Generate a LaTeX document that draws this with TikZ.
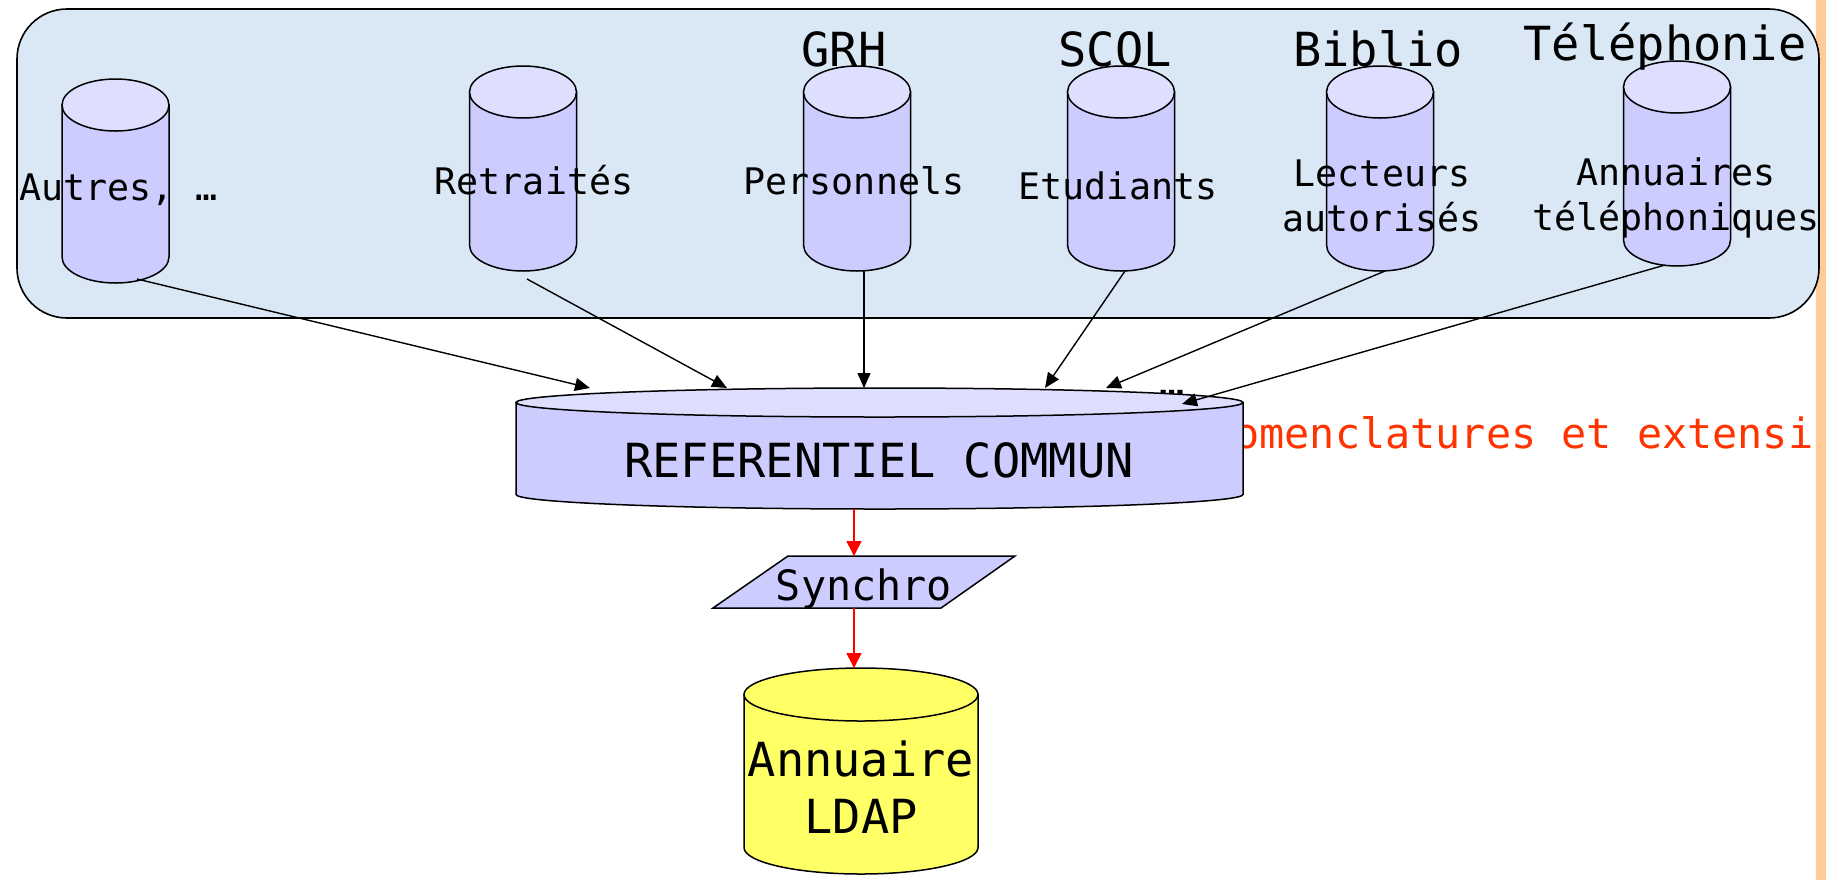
\documentclass[tikz,border=0pt]{standalone}
\usepackage{fontspec}
\newfontfamily\dvm{DejaVu Sans Mono}
\usetikzlibrary{arrows.meta}
\definecolor{bgblue}{RGB}{218,232,246}
\definecolor{cylbody}{RGB}{204,204,255}
\definecolor{cyltop}{RGB}{222,222,255}
\definecolor{ldapy}{RGB}{255,255,102}
\definecolor{nomred}{RGB}{255,51,0}
\definecolor{stripor}{RGB}{255,204,153}
% #1 cx, #2 top-centre y, #3 bottom-centre y, #4 rx, #5 ry (px), #6 body colour, #7 top colour
\newcommand\dbcyl[7]{%
  \pgfmathsetlengthmacro\myrx{#4*0.5pt}%
  \pgfmathsetlengthmacro\myry{#5*0.5pt}%
  \filldraw[cylline, fill=#6] (#1-#4,#2) -- (#1-#4,#3)
    arc[start angle=180, end angle=360, x radius=\myrx, y radius=\myry] -- (#1+#4,#2) -- cycle;
  \filldraw[cylline, fill=#7] (#1,#2) ellipse[x radius=\myrx, y radius=\myry];
}
\begin{document}
\begin{tikzpicture}[x=0.5pt,y=-0.5pt,
  cylline/.style={draw=black,line width=0.75pt},
  lbl/.style={font=\dvm\fontsize{18.3pt}{22.5pt}\selectfont, inner sep=0pt, anchor=base, align=center},
  hdr/.style={font=\dvm\fontsize{23.5pt}{28pt}\selectfont, inner sep=0pt, anchor=base},
  big/.style={font=\dvm\fontsize{23.5pt}{28.5pt}\selectfont, inner sep=0pt, anchor=base, align=center},
  med/.style={font=\dvm\fontsize{20.9pt}{25pt}\selectfont, inner sep=0pt, anchor=base},
  feed/.style={-{Triangle[length=7.5pt,width=6.5pt]}, line width=0.7pt, draw=black},
  sync/.style={-{Triangle[length=7.5pt,width=7.5pt]}, line width=0.8pt, draw=red, fill=red}]
% page
\fill[white] (0,0) rectangle (1826,880);
\useasboundingbox (0,0) rectangle (1826,880);
\fill[stripor] (1816,0) rectangle (1826,880);
\draw[white!85!stripor, line width=0.6pt] (1815.5,0) -- (1815.5,880);
% source area
\filldraw[fill=bgblue, draw=black, line width=0.8pt, rounded corners=25pt] (17,9) rectangle (1819,318);
% source cylinders
\dbcyl{115.5}{105}{257}{53.5}{26}{cylbody}{cyltop}
\dbcyl{523}{92}{245}{53.5}{26}{cylbody}{cyltop}
\dbcyl{857}{92}{245}{53.5}{26}{cylbody}{cyltop}
\dbcyl{1121}{92}{245}{53.5}{26}{cylbody}{cyltop}
\dbcyl{1380}{92}{245}{53.5}{26}{cylbody}{cyltop}
\dbcyl{1677}{87}{240}{53.5}{26}{cylbody}{cyltop}
% headers
\node[hdr] (grh) at (844,66) {GRH};
\node[hdr] (scol) at (1115,66) {SCOL};
\node[hdr] (biblio) at (1378,66) {Biblio};
\node[hdr] (tel) at (1665,60) {Téléphonie};
% labels
\node[lbl, anchor=base west] (autres) at (19,200) {Autres, …};
\node[lbl] (retr) at (534,194) {Retraités};
\node[lbl] (pers) at (854,194) {Personnels};
\node[lbl] (etud) at (1118,199) {Etudiants};
\node[lbl] (lect) at (1382,231) {Lecteurs\\autorisés};
\node[lbl] (annu) at (1676,230) {Annuaires\\téléphoniques};
% nomenclature text (behind the common repository)
\node[med, anchor=base west, text=nomred] (nomen) at (1234,448) {omenclatures et extensi};
\node[med] (dots) at (1172,396) {…};
% common repository
\dbcyl{879.5}{402.5}{494.5}{363.5}{14.5}{cylbody}{cyltop}
\node[big] (ref) at (879,477) {REFERENTIEL COMMUN};
% arrow anchors
\coordinate (s1) at (137,279);
\coordinate (s2) at (527,279);
\coordinate (s3) at (864,271);
\coordinate (s4) at (1125,271);
\coordinate (s5) at (1385,271);
\coordinate (s6) at (1665,265);
\coordinate (e1) at (590,388);
\coordinate (e2) at (727,388);
\coordinate (e3) at (864,388);
\coordinate (e4) at (1045,388);
\coordinate (e5) at (1106,388);
\coordinate (e6) at (1182,404);
\draw[feed] (s1) -- (e1);
\draw[feed] (s2) -- (e2);
\draw[feed] (s3) -- (e3);
\draw[feed] (s4) -- (e4);
\draw[feed] (s5) -- (e5);
\draw[feed] (s6) -- (e6);
% synchro
\filldraw[fill=cylbody, draw=black, line width=0.75pt] (788,556) -- (1015,556) -- (941,608) -- (713,608) -- cycle;
\node[med] (sync) at (864,600) {Synchro};
% LDAP
\dbcyl{861}{694.5}{847.5}{117}{26.5}{ldapy}{ldapy}
\node[big] (ldap) at (861,833) {Annuaire\\LDAP};
% red arrows
\coordinate (refb) at (854,509);
\coordinate (synt) at (854,556);
\coordinate (synb) at (854,608);
\coordinate (ldapt) at (854,668);
\draw[sync] (refb) -- (synt);
\draw[sync] (synb) -- (ldapt);
\end{tikzpicture}
\end{document}
